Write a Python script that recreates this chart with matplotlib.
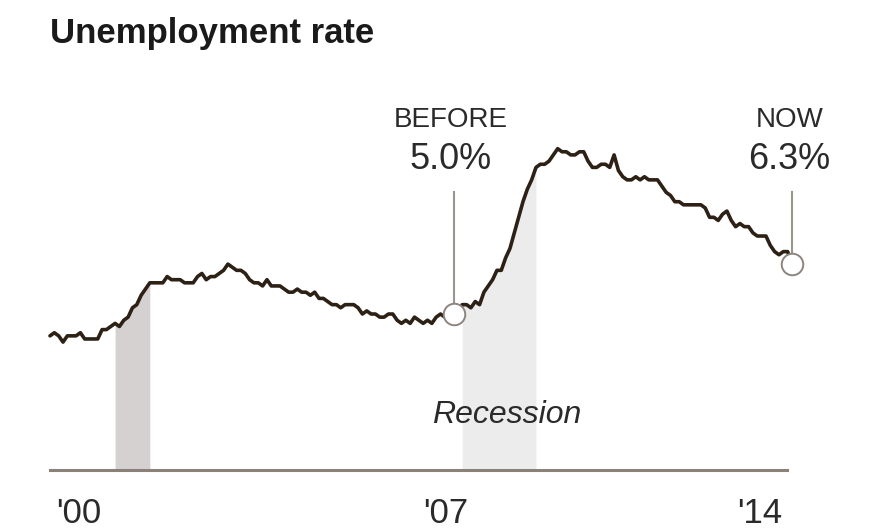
import numpy as np
import matplotlib.pyplot as plt

# monthly unemployment rate (%), Jan 2000 - Apr 2014
rate_2000 = [4.0, 4.1, 4.0, 3.8, 4.0, 4.0, 4.0, 4.1, 3.9, 3.9, 3.9, 3.9]
rate_2001 = [4.2, 4.2, 4.3, 4.4, 4.3, 4.5, 4.6, 4.9, 5.0, 5.3, 5.5, 5.7]
rate_2002 = [5.7, 5.7, 5.7, 5.9, 5.8, 5.8, 5.8, 5.7, 5.7, 5.7, 5.9, 6.0]
rate_2003 = [5.8, 5.9, 5.9, 6.0, 6.1, 6.3, 6.2, 6.1, 6.1, 6.0, 5.8, 5.7]
rate_2004 = [5.7, 5.6, 5.8, 5.6, 5.6, 5.6, 5.5, 5.4, 5.4, 5.5, 5.4, 5.4]
rate_2005 = [5.3, 5.4, 5.2, 5.2, 5.1, 5.0, 5.0, 4.9, 5.0, 5.0, 5.0, 4.9]
rate_2006 = [4.7, 4.8, 4.7, 4.7, 4.6, 4.6, 4.7, 4.7, 4.5, 4.4, 4.5, 4.4]
rate_2007 = [4.6, 4.5, 4.4, 4.5, 4.4, 4.6, 4.7, 4.6, 4.7, 4.7, 4.7, 5.0]
rate_2008 = [5.0, 4.9, 5.1, 5.0, 5.4, 5.6, 5.8, 6.1, 6.1, 6.5, 6.8, 7.3]
rate_2009 = [7.8, 8.3, 8.7, 9.0, 9.4, 9.5, 9.5, 9.6, 9.8, 10.0, 9.9, 9.9]
rate_2010 = [9.8, 9.8, 9.9, 9.9, 9.6, 9.4, 9.4, 9.5, 9.5, 9.4, 9.8, 9.3]
rate_2011 = [9.1, 9.0, 9.0, 9.1, 9.0, 9.1, 9.0, 9.0, 9.0, 8.8, 8.6, 8.5]
rate_2012 = [8.3, 8.3, 8.2, 8.2, 8.2, 8.2, 8.2, 8.1, 7.8, 7.8, 7.7, 7.9]
rate_2013 = [8.0, 7.7, 7.5, 7.6, 7.5, 7.5, 7.3, 7.2, 7.2, 7.2, 6.9, 6.7]
rate_2014 = [6.6, 6.7, 6.7, 6.3]

recession_start = [2001.25, 2007.9]
recession_end = [2001.92, 2009.35]

year_labels = ["'00", "'07", "'14"]
callout_titles = ["BEFORE", "NOW"]
callout_values = ["5.0%", "6.3%"]
callout_index = [93, 171]  # Oct 2007, Apr 2014

rate = np.array(rate_2000 + rate_2001 + rate_2002 + rate_2003 + rate_2004 +
                rate_2005 + rate_2006 + rate_2007 + rate_2008 + rate_2009 +
                rate_2010 + rate_2011 + rate_2012 + rate_2013 + rate_2014)
dates = 2000 + np.arange(len(rate)) / 12

W, H = 886, 530
fig = plt.figure(figsize=(W / 100, H / 100), dpi=100)
plt.rcParams['font.family'] = ['Liberation Sans', 'DejaVu Sans']

# axes placed in pixels: x 50..792, baseline y 470
ax = fig.add_axes([50 / W, (H - 470) / H, 742 / W, 370 / H])
ymin, ymax = -0.3, 11.56
ax.set_xlim(2000, 2014.25)
ax.set_ylim(ymin, ymax)

shade = ['#d5d1d0', '#ececec']
for s, e, c in zip(recession_start, recession_end, shade):
    mask = (dates >= s) & (dates <= e)
    ax.fill_between(dates, ymin, rate, where=mask, color=c, lw=0, zorder=1)

ax.plot(dates, rate, color='#2d2116', lw=2.6, solid_joinstyle='round',
        solid_capstyle='round', zorder=3, clip_on=False)

for i, t, v in zip(callout_index, callout_titles, callout_values):
    x, y = dates[i], rate[i]
    ax.plot([x, x], [y, 8.6], color='#9b958f', lw=1.5, zorder=2, clip_on=False)
    ax.plot(x, y, 'o', ms=15.5, mfc='white', mec='#8c8580', mew=1.4,
            zorder=4, clip_on=False)
    ax.text(x - 0.05, 9.35, v, ha='center', va='baseline', fontsize=26,
            color='#2a2a2a')
    ax.text(x - 0.05, 10.7, t, ha='center', va='baseline', fontsize=20,
            color='#2a2a2a')

for s in ['top', 'left', 'right']:
    ax.spines[s].set_visible(False)
ax.spines['bottom'].set_color('#8a8178')
ax.spines['bottom'].set_linewidth(2.2)
ax.spines['bottom'].set_bounds(2000, 2014.15)
ax.set_xticks([])
ax.set_yticks([])

fig.text(50 / W, 1 - 43 / H, 'Unemployment rate', fontsize=25,
         fontweight='bold', color='#1a1a1a', va='baseline')
fig.text(507 / W, 1 - 423 / H, 'Recession', fontsize=23, style='italic',
         color='#2a2a2a', ha='center', va='baseline')
for lab, xp in zip(year_labels, [79, 446, 760]):
    fig.text(xp / W, 1 - 523 / H, lab, fontsize=25, color='#2a2a2a',
             ha='center', va='baseline')

fig.savefig('out.png', dpi=100)
